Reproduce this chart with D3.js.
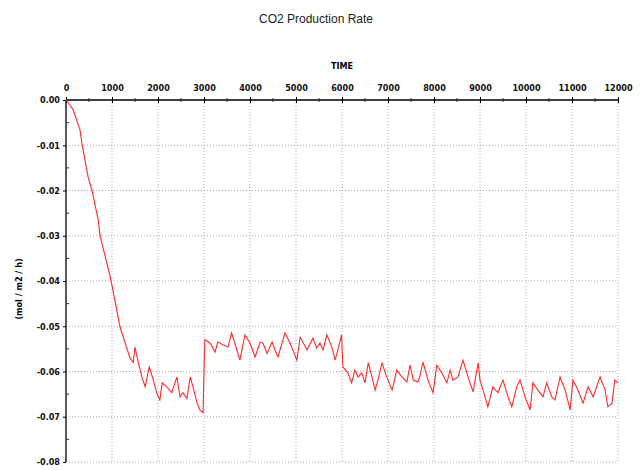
<!DOCTYPE html>
<html>
<head>
<meta charset="utf-8">
<script src="https://d3js.org/d3.v7.min.js"></script>
<style>
  body { margin: 0; background: #fff; }
  text { font-family: "DejaVu Sans", sans-serif; }
</style>
</head>
<body>
<svg width="644" height="470"></svg>
<script>
// time (s) and CO2 production rate
var timePoints = [0, 150, 304, 348, 480, 565, 700, 740, 960, 1020, 1170, 1280, 1390, 1460, 1500, 1570, 1650, 1720, 1810, 1900,
  1970, 2040, 2090, 2190, 2300, 2410, 2480, 2540, 2630, 2700, 2760, 2850, 2910, 2980, 3000, 3020, 3130, 3240, 3300, 3410,
  3520, 3600, 3670, 3780, 3890, 4000, 4110, 4220, 4280, 4370, 4480, 4540, 4610, 4760, 4870, 5020, 5090, 5240, 5370, 5450,
  5520, 5590, 5670, 5780, 5850, 5910, 5990, 6020, 6130, 6210, 6280, 6350, 6430, 6500, 6570, 6650, 6720, 6780, 6870, 6970,
  7090, 7190, 7300, 7410, 7480, 7550, 7650, 7690, 7760, 7870, 7980, 8060, 8170, 8280, 8350, 8410, 8520, 8630, 8740, 8850,
  8960, 9000, 9110, 9170, 9280, 9390, 9500, 9610, 9690, 9800, 9870, 9980, 10090, 10150, 10260, 10370, 10450, 10560, 10630, 10740,
  10850, 10960, 11020, 11130, 11240, 11350, 11460, 11610, 11720, 11780, 11870, 11930, 12000];
var co2Rate = [0, -0.002, -0.0066, -0.0097, -0.017, -0.02, -0.0265, -0.03, -0.039, -0.042, -0.05, -0.0535, -0.057, -0.058, -0.0546, -0.058, -0.0612, -0.0634, -0.059, -0.0619,
  -0.0647, -0.0663, -0.0625, -0.0634, -0.0647, -0.0612, -0.0656, -0.0647, -0.066, -0.0612, -0.0634, -0.067, -0.0685, -0.0691, -0.0597, -0.053, -0.0537, -0.0557, -0.0535, -0.0541,
  -0.0546, -0.0515, -0.0537, -0.0575, -0.0519, -0.0537, -0.0568, -0.0535, -0.0537, -0.056, -0.0535, -0.0552, -0.0568, -0.0515, -0.0537, -0.0575, -0.0524, -0.0552, -0.0526, -0.0548,
  -0.0537, -0.0552, -0.0519, -0.0546, -0.0575, -0.0552, -0.0519, -0.059, -0.0603, -0.0625, -0.0597, -0.0612, -0.0603, -0.0625, -0.0581, -0.0612, -0.0641, -0.0619, -0.0581, -0.0612,
  -0.0641, -0.0597, -0.0612, -0.0623, -0.0586, -0.0619, -0.0623, -0.0612, -0.0579, -0.0619, -0.0647, -0.0586, -0.0603, -0.0625, -0.0597, -0.0619, -0.0612, -0.0575, -0.0612, -0.0645,
  -0.0581, -0.0619, -0.0656, -0.0678, -0.0634, -0.0647, -0.0619, -0.0656, -0.0678, -0.0634, -0.0619, -0.0656, -0.0685, -0.0625, -0.0641, -0.0656, -0.0625, -0.0656, -0.0663, -0.0612,
  -0.0641, -0.0685, -0.0619, -0.0641, -0.067, -0.0634, -0.0656, -0.0612, -0.0641, -0.0678, -0.067, -0.0619, -0.0625];

var xTicks = [0, 1000, 2000, 3000, 4000, 5000, 6000, 7000, 8000, 9000, 10000, 11000, 12000];
var yTicks = [0, -0.01, -0.02, -0.03, -0.04, -0.05, -0.06, -0.07, -0.08];

function main() {
  var svg = d3.select("svg")
  var left = 66, right = 618, plotTop = 100, plotBottom = 462
  var tickFont = "DejaVu Sans Condensed, DejaVu Sans, sans-serif"

  var x = d3.scaleLinear().domain([0, 12000]).range([left, right])
  var y = d3.scaleLinear().domain([0, -0.08]).range([plotTop, plotBottom])

  // title
  svg.append("text")
    .attr("x", 316).attr("y", 23)
    .attr("text-anchor", "middle")
    .attr("font-size", "12px")
    .attr("fill", "#222")
    .style("font-family", "Liberation Sans, Arial, sans-serif")
    .text("CO2 Production Rate")

  // grid
  var grid = svg.append("g").attr("stroke", "#aaa").attr("stroke-dasharray", "1,2")
  grid.selectAll(".vg").data(xTicks.slice(1)).enter().append("line")
    .attr("x1", d => x(d)).attr("x2", d => x(d))
    .attr("y1", plotTop).attr("y2", plotBottom)
  grid.selectAll(".hg").data(yTicks.slice(1)).enter().append("line")
    .attr("x1", left).attr("x2", right)
    .attr("y1", d => y(d)).attr("y2", d => y(d))

  // top axis
  var xAxis = svg.append("g")
    .attr("transform", "translate(0," + plotTop + ")")
    .call(d3.axisTop(x).tickValues(xTicks).tickSize(3).tickPadding(6).tickFormat(d3.format("d")))
  xAxis.select(".domain").attr("d", "M" + left + ",0H" + right).attr("stroke-width", 1.3)
  xAxis.selectAll("text").attr("font-size", "9px").attr("font-weight", "bold").attr("fill", "#111")
    .style("font-family", tickFont)
  xAxis.selectAll(".tick line").attr("y2", 3).attr("y1", -3)
  // minor ticks crossing the axis
  xAxis.selectAll(".minor").data(d3.range(500, 12000, 1000)).enter().append("line")
    .attr("x1", d => x(d)).attr("x2", d => x(d))
    .attr("y1", -2).attr("y2", 2).attr("stroke", "#333")

  svg.append("text")
    .attr("x", (left + right) / 2).attr("y", 69)
    .attr("text-anchor", "middle")
    .attr("font-size", "9px").attr("font-weight", "bold")
    .style("font-family", tickFont)
    .text("TIME")

  // left axis
  var yAxis = svg.append("g")
    .attr("transform", "translate(" + left + ",0)")
    .call(d3.axisLeft(y).tickValues(yTicks).tickSize(3).tickPadding(3).tickFormat(d3.format(".2f")))
  yAxis.select(".domain").attr("d", "M0," + plotTop + "V" + plotBottom).attr("stroke-width", 1.3)
  yAxis.selectAll("text").attr("font-size", "9px").attr("font-weight", "bold").attr("fill", "#111")
    .style("font-family", tickFont)
    .text(d => d3.format(".2f")(d).replace("−", "-"))
  yAxis.selectAll(".minor").data(d3.range(-0.005, -0.08, -0.01)).enter().append("line")
    .attr("x1", 0).attr("x2", 3)
    .attr("y1", d => y(d)).attr("y2", d => y(d)).attr("stroke", "#333")

  svg.append("text")
    .attr("transform", "translate(22," + ((plotTop + plotBottom) / 2 + 8) + ") rotate(-90)")
    .attr("text-anchor", "middle")
    .attr("font-size", "9px").attr("font-weight", "bold")
    .style("font-family", tickFont)
    .text("(mol / m2 / h)")

  // line
  var pts = timePoints.map((t, i) => [t, co2Rate[i]])
  svg.append("path")
    .datum(pts)
    .attr("fill", "none")
    .attr("stroke", "#ff2a2a")
    .attr("stroke-width", 1.1)
    .attr("d", d3.line().x(d => x(d[0])).y(d => y(d[1])))
}
main()
</script>
</body>
</html>
